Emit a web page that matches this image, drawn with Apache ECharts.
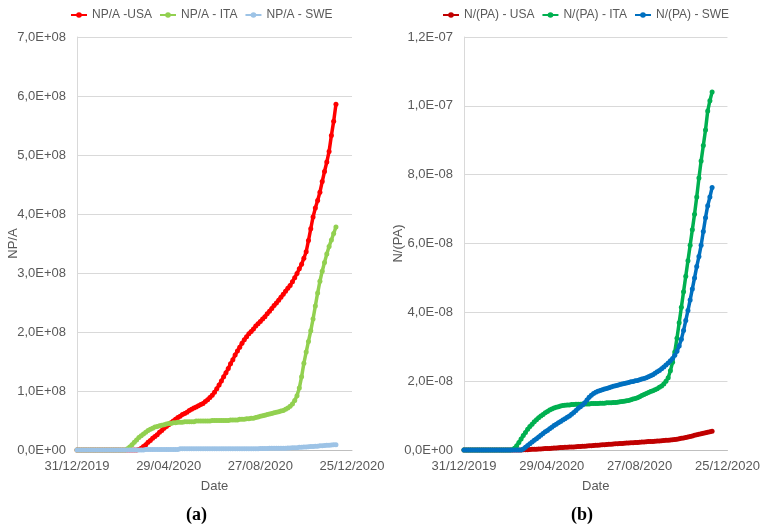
<!DOCTYPE html>
<html>
<head>
<meta charset="utf-8">
<script src="https://cdn.jsdelivr.net/npm/echarts@6/dist/echarts.min.js"></script>
<style>
  html, body { margin: 0; padding: 0; background: #fff; }
  #chart { width: 763px; height: 529px; }
</style>
</head>
<body>
<div id="chart"></div>
<script>
// Days elapsed since 31/12/2019 for each sample
const sampleDays = [
  0, 3, 6, 9, 12, 15, 18, 21, 24, 27,
  30, 33, 36, 39, 42, 45, 48, 51, 54, 57,
  60, 63, 66, 69, 72, 75, 78, 81, 84, 87,
  90, 93, 96, 99, 102, 105, 108, 111, 114, 117,
  120, 123, 126, 129, 132, 135, 138, 141, 144, 147,
  150, 153, 156, 159, 162, 165, 168, 171, 174, 177,
  180, 183, 186, 189, 192, 195, 198, 201, 204, 207,
  210, 213, 216, 219, 222, 225, 228, 231, 234, 237,
  240, 243, 246, 249, 252, 255, 258, 261, 264, 267,
  270, 273, 276, 279, 282, 285, 288, 291, 294, 297,
  300, 303, 306, 309, 312, 315, 318, 321, 324, 327,
  330, 333, 336, 339
];

// NP/A, in units of 1E+08
const npaUSA = [
  0, 0, 0, 0, 0, 0, 0, 0, 0, 0,
  0, 0, 0, 0, 0, 0, 0, 0, 0, 0,
  0, 0, 0, 0, 0, 0, 0, 0.01, 0.03, 0.06,
  0.09, 0.13, 0.16, 0.20, 0.23, 0.26, 0.30, 0.33, 0.37, 0.40,
  0.43, 0.46, 0.49, 0.52, 0.55, 0.57, 0.60, 0.62, 0.64, 0.67,
  0.69, 0.71, 0.73, 0.75, 0.77, 0.79, 0.82, 0.85, 0.89, 0.93,
  0.98, 1.04, 1.10, 1.17, 1.24, 1.31, 1.38, 1.46, 1.53, 1.61,
  1.68, 1.74, 1.81, 1.87, 1.92, 1.97, 2.01, 2.05, 2.10, 2.14,
  2.18, 2.22, 2.26, 2.31, 2.35, 2.40, 2.45, 2.49, 2.54, 2.59,
  2.64, 2.69, 2.74, 2.79, 2.85, 2.92, 2.99, 3.07, 3.15, 3.25,
  3.36, 3.55, 3.75, 3.95, 4.10, 4.23, 4.37, 4.55, 4.72, 4.88,
  5.06, 5.33, 5.57, 5.86
];
const npaITA = [
  0, 0, 0, 0, 0, 0, 0, 0, 0, 0,
  0, 0, 0, 0, 0, 0, 0, 0, 0, 0,
  0, 0, 0.02, 0.05, 0.09, 0.13, 0.17, 0.21, 0.24, 0.27,
  0.30, 0.33, 0.35, 0.37, 0.39, 0.40, 0.41, 0.42, 0.43, 0.44,
  0.45, 0.45, 0.46, 0.46, 0.47, 0.47, 0.47, 0.48, 0.48, 0.48,
  0.48, 0.48, 0.49, 0.49, 0.49, 0.49, 0.49, 0.49, 0.49, 0.50,
  0.50, 0.50, 0.50, 0.50, 0.50, 0.50, 0.50, 0.51, 0.51, 0.51,
  0.51, 0.52, 0.52, 0.52, 0.53, 0.53, 0.54, 0.54, 0.55, 0.56,
  0.57, 0.58, 0.59, 0.60, 0.61, 0.62, 0.63, 0.64, 0.65, 0.66,
  0.67, 0.69, 0.71, 0.74, 0.78, 0.84, 0.92, 1.05, 1.24, 1.47,
  1.66, 1.84, 2.02, 2.22, 2.44, 2.66, 2.86, 3.03, 3.18, 3.32,
  3.45, 3.56, 3.67, 3.78
];
const npaSWE = [
  0, 0, 0, 0, 0, 0, 0, 0, 0, 0,
  0, 0, 0, 0, 0, 0, 0, 0, 0, 0,
  0, 0, 0, 0, 0, 0, 0, 0, 0, 0,
  0.01, 0.01, 0.01, 0.01, 0.01, 0.01, 0.01, 0.01, 0.01, 0.01,
  0.01, 0.01, 0.01, 0.01, 0.01, 0.02, 0.02, 0.02, 0.02, 0.02,
  0.02, 0.02, 0.02, 0.02, 0.02, 0.02, 0.02, 0.02, 0.02, 0.02,
  0.02, 0.02, 0.02, 0.02, 0.02, 0.02, 0.02, 0.02, 0.02, 0.02,
  0.02, 0.02, 0.02, 0.02, 0.02, 0.02, 0.02, 0.02, 0.02, 0.02,
  0.025, 0.025, 0.025, 0.025, 0.03, 0.03, 0.03, 0.03, 0.03, 0.03,
  0.03, 0.03, 0.035, 0.035, 0.04, 0.04, 0.04, 0.045, 0.045, 0.05,
  0.05, 0.055, 0.06, 0.06, 0.065, 0.065, 0.07, 0.07, 0.075, 0.08,
  0.08, 0.085, 0.09, 0.09
];

// N/(PA), in units of 1E-08
const nPaUSA = [
  0, 0, 0, 0, 0, 0, 0, 0, 0, 0,
  0, 0, 0, 0, 0, 0, 0, 0, 0, 0,
  0, 0, 0, 0, 0, 0, 0, 0.005, 0.01, 0.01,
  0.015, 0.02, 0.02, 0.025, 0.03, 0.03, 0.035, 0.04, 0.04, 0.045,
  0.05, 0.055, 0.06, 0.065, 0.07, 0.075, 0.08, 0.08, 0.085, 0.09,
  0.09, 0.095, 0.10, 0.105, 0.11, 0.11, 0.115, 0.12, 0.125, 0.13,
  0.135, 0.14, 0.145, 0.15, 0.155, 0.16, 0.165, 0.17, 0.175, 0.18,
  0.185, 0.19, 0.19, 0.195, 0.20, 0.205, 0.21, 0.21, 0.215, 0.22,
  0.225, 0.23, 0.235, 0.24, 0.245, 0.25, 0.25, 0.255, 0.26, 0.265,
  0.27, 0.275, 0.28, 0.285, 0.29, 0.30, 0.305, 0.315, 0.325, 0.34,
  0.35, 0.365, 0.38, 0.395, 0.41, 0.425, 0.44, 0.455, 0.47, 0.485,
  0.50, 0.515, 0.53, 0.545
];
const nPaITA = [
  0, 0, 0, 0, 0, 0, 0, 0, 0, 0,
  0, 0, 0, 0, 0, 0, 0, 0, 0, 0,
  0, 0, 0.01, 0.05, 0.12, 0.22, 0.32, 0.42, 0.51, 0.60,
  0.68, 0.75, 0.82, 0.88, 0.94, 0.99, 1.03, 1.08, 1.12, 1.16,
  1.19, 1.22, 1.24, 1.26, 1.28, 1.29, 1.30, 1.31, 1.31, 1.32,
  1.32, 1.33, 1.33, 1.33, 1.34, 1.34, 1.34, 1.34, 1.35, 1.35,
  1.35, 1.35, 1.36, 1.36, 1.36, 1.37, 1.37, 1.37, 1.38, 1.38,
  1.39, 1.40, 1.41, 1.42, 1.43, 1.44, 1.46, 1.48, 1.50, 1.52,
  1.55, 1.58, 1.61, 1.64, 1.67, 1.70, 1.72, 1.75, 1.78, 1.82,
  1.86, 1.92, 2.00, 2.10, 2.30, 2.55, 2.85, 3.25, 3.70, 4.15,
  4.60, 5.05, 5.50, 5.95, 6.40, 6.85, 7.35, 7.90, 8.40, 8.85,
  9.30, 9.85, 10.15, 10.40
];
const nPaSWE = [
  0, 0, 0, 0, 0, 0, 0, 0, 0, 0,
  0, 0, 0, 0, 0, 0, 0, 0, 0, 0,
  0, 0, 0, 0, 0, 0, 0, 0.03, 0.08, 0.13,
  0.18, 0.23, 0.28, 0.33, 0.38, 0.43, 0.48, 0.53, 0.57, 0.62,
  0.66, 0.71, 0.75, 0.79, 0.83, 0.87, 0.91, 0.95, 0.99, 1.04,
  1.09, 1.15, 1.21, 1.26, 1.31, 1.37, 1.45, 1.53, 1.59, 1.64,
  1.68, 1.71, 1.73, 1.75, 1.77, 1.79, 1.81, 1.83, 1.85, 1.87,
  1.88, 1.90, 1.92, 1.93, 1.95, 1.96, 1.98, 1.99, 2.01, 2.02,
  2.04, 2.06, 2.08, 2.10, 2.13, 2.16, 2.19, 2.23, 2.27, 2.31,
  2.36, 2.41, 2.47, 2.53, 2.59, 2.66, 2.75, 2.87, 3.02, 3.22,
  3.47, 3.76, 4.05, 4.36, 4.68, 5.00, 5.33, 5.62, 5.95, 6.35,
  6.75, 7.10, 7.35, 7.63
];

const legendA = ['NP/A -USA', 'NP/A - ITA', 'NP/A - SWE'];
const legendB = ['N/(PA) - USA', 'N/(PA) - ITA', 'N/(PA) - SWE'];
const colorsA = ['#FF0000', '#92D050', '#9DC3E6'];
const colorsB = ['#C00000', '#00B050', '#0070C0'];

const START = Date.UTC(2019, 11, 31);
function dayLabel(d) {
  const t = new Date(START + d * 86400000);
  const dd = String(t.getUTCDate()).padStart(2, '0');
  const mm = String(t.getUTCMonth() + 1).padStart(2, '0');
  return dd + '/' + mm + '/' + t.getUTCFullYear();
}
function sci(v) {
  if (Math.abs(v) < 1e-30) return '0,0E+00';
  const e = Math.floor(Math.log10(Math.abs(v)) + 1e-9);
  const m = v / Math.pow(10, e);
  return m.toFixed(1).replace('.', ',') + 'E' + (e < 0 ? '-' : '+') + String(Math.abs(e)).padStart(2, '0');
}

const FONT = 'Liberation Sans';
const TXT = '#595959';

function pairs(vals) { return sampleDays.map((d, i) => [d, vals[i]]); }

function xAxis(gridIndex) {
  return {
    type: 'value', gridIndex, min: 0, max: 360, interval: 120,
    name: 'Date', nameLocation: 'middle', nameGap: 30, nameMoveOverlap: false,
    nameTextStyle: { color: TXT, fontFamily: FONT, fontSize: 13 },
    axisLine: { show: true, lineStyle: { color: '#bfbfbf', width: 1 } },
    axisTick: { show: false },
    splitLine: { show: false },
    axisLabel: { color: TXT, fontFamily: FONT, fontSize: 13, margin: 10, formatter: dayLabel, showMinLabel: true, showMaxLabel: true }
  };
}
function yAxis(gridIndex, name, max, interval, scale, gap) {
  return {
    type: 'value', gridIndex, min: 0, max, interval,
    name, nameLocation: 'middle', nameGap: gap, nameRotate: 90, nameMoveOverlap: false,
    nameTextStyle: { color: TXT, fontFamily: FONT, fontSize: 13 },
    axisLine: { show: true, lineStyle: { color: '#d9d9d9', width: 1 } },
    axisTick: { show: false },
    splitLine: { show: true, lineStyle: { color: '#d9d9d9', width: 1 } },
    axisLabel: { color: TXT, fontFamily: FONT, fontSize: 13, margin: 11, formatter: v => sci(v * scale) }
  };
}
function line(name, vals, color, idx) {
  return {
    name, type: 'line', xAxisIndex: idx, yAxisIndex: idx,
    data: pairs(vals),
    symbol: 'circle', symbolSize: 5, showSymbol: true,
    lineStyle: { color, width: 3.5 },
    itemStyle: { color },
    emphasis: { disabled: true },
    z: 2
  };
}

const legendText = { color: TXT, fontFamily: FONT, fontSize: 12 };

const chart = echarts.init(document.getElementById('chart'), null, { renderer: 'canvas' });
chart.setOption({
  animation: false,
  backgroundColor: '#ffffff',
  grid: [
    { left: 77, top: 37, width: 275, height: 413 },
    { left: 464, top: 37, width: 275, height: 413 }
  ],
  legend: [
    {
      data: legendA, left: 70, top: 9, width: 320, padding: 0, itemWidth: 16, itemHeight: 7, itemGap: 7,
      itemStyle: { borderWidth: 0 }, lineStyle: { width: 2 },
      textStyle: legendText
    },
    {
      data: legendB, left: 442, top: 9, width: 320, padding: 0, itemWidth: 16, itemHeight: 7, itemGap: 7,
      itemStyle: { borderWidth: 0 }, lineStyle: { width: 2 },
      textStyle: legendText
    }
  ],
  xAxis: [xAxis(0), xAxis(1)],
  yAxis: [
    yAxis(0, 'NP/A', 7, 1, 1e8, 57),
    yAxis(1, 'N/(PA)', 12, 2, 1e-8, 59)
  ],
  series: [
    line(legendA[0], npaUSA, colorsA[0], 0),
    line(legendA[1], npaITA, colorsA[1], 0),
    line(legendA[2], npaSWE, colorsA[2], 0),
    line(legendB[0], nPaUSA, colorsB[0], 1),
    line(legendB[1], nPaITA, colorsB[1], 1),
    line(legendB[2], nPaSWE, colorsB[2], 1)
  ],
  graphic: [
    { type: 'text', left: 186, top: 506, style: { text: '(a)', font: 'bold 18px "Liberation Serif"', fill: '#000' } },
    { type: 'text', left: 571, top: 506, style: { text: '(b)', font: 'bold 18px "Liberation Serif"', fill: '#000' } }
  ]
});
</script>
</body>
</html>
